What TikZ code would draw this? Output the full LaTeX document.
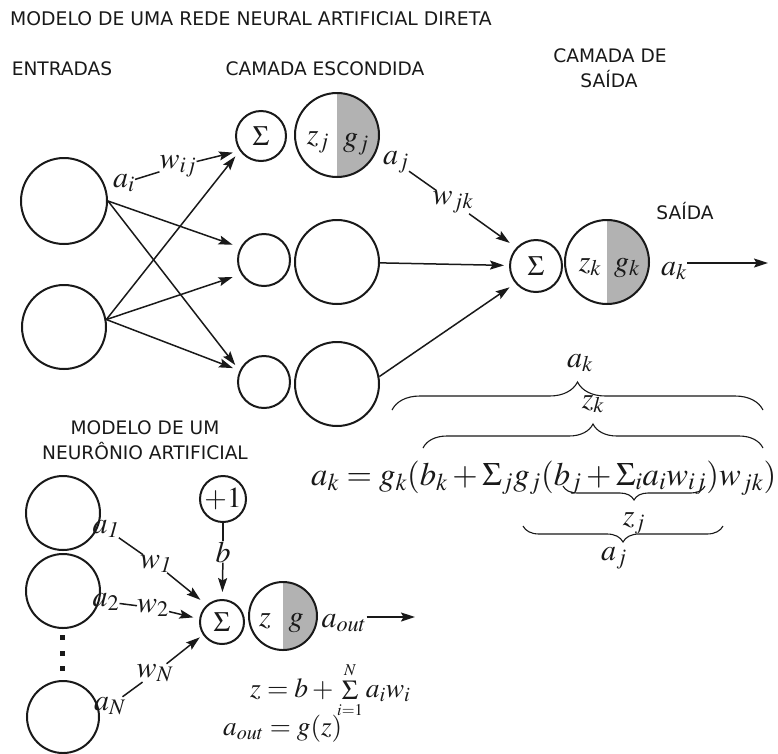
\documentclass[tikz,border=0pt]{standalone}
\usepackage{mathptmx}
\usepackage{graphicx}
\usepackage[no-math]{fontspec}
\setsansfont{DejaVu Sans}
\usetikzlibrary{arrows.meta,decorations.pathreplacing}
\definecolor{halfg}{RGB}{178,178,178}
\definecolor{ink}{RGB}{25,25,25}
\tikzset{
  neuron/.style={circle,draw=ink,line width=2pt,inner sep=0pt,fill=white},
  halfgray/.style={path picture={\fill[halfg] (path picture bounding box.north) rectangle (path picture bounding box.south east);}},
  inl/.style={font=\fontsize{30}{32}\selectfont,inner sep=0pt,text=ink,anchor=base},
  sig/.style={font=\fontsize{28}{30}\selectfont,text=ink},
  hdr/.style={font=\sffamily\fontsize{18.6}{20}\selectfont,text=ink,inner sep=0pt,anchor=base},
  arr/.style={-{Stealth[length=14pt,width=9pt,inset=2.5pt]},line width=1.5pt,draw=ink},
  con/.style={line width=1.5pt,draw=ink},
  brc/.style={decorate,decoration={brace,amplitude=#1},line width=1.1pt,draw=ink},
  brc/.default=20pt,
  dotsq/.style={fill=ink,inner sep=0pt,minimum size=5pt,rectangle}
}
\begin{document}
\begin{tikzpicture}[x=1pt,y=-1pt]
\useasboundingbox (0,0) rectangle (778,753);

% ---------- headings ----------
\node[hdr,anchor=base west,font=\sffamily\fontsize{18.8}{20}\selectfont] (title) at (10,25) {MODELO DE UMA REDE NEURAL ARTIFICIAL DIRETA};
\node[hdr] (tin) at (62,75) {ENTRADAS};
\node[hdr] (thid) at (325,75) {CAMADA ESCONDIDA};
\node[hdr] (tout1) at (610,62) {CAMADA DE};
\node[hdr] (tout2) at (609,87) {SAÍDA};
\node[hdr] (tsaida) at (685,219) {SAÍDA};
\node[hdr] (tmod1) at (145,434) {MODELO DE UM};
\node[hdr] (tmod2) at (145,459) {NEURÔNIO ARTIFICIAL};

% ---------- network neurons ----------
\node[neuron,minimum size=86pt] (in1) at (64,201) {};
\node[neuron,minimum size=84pt] (in2) at (64,327) {};
\node[neuron,minimum size=50pt,sig] (s1) at (261,136) {$\Sigma$};
\node[neuron,halfgray,minimum size=84pt] (h1) at (337,135) {};
\node[neuron,minimum size=52pt] (s2) at (264,260) {};
\node[neuron,minimum size=84pt] (h2) at (337,262) {};
\node[neuron,minimum size=52pt] (s3) at (264,382) {};
\node[neuron,minimum size=84pt] (h3) at (337,384) {};
\node[neuron,minimum size=52pt,sig] (so) at (536,266) {$\Sigma$};
\node[neuron,halfgray,minimum size=84pt] (o) at (607,262) {};

\node[inl] (zj) at (318,144) {$z_j$};
\node[inl] (gj) at (356,146) {$g_j$};
\node[inl] (zk) at (590,271) {$z_k$};
\node[inl] (gk) at (627,271) {$g_k$};

% labels on network connectors
\node[inl] (ai) at (124,187) {$a_i$};
\node[inl] (wij) at (178,168) {$w_{ij}$};
\node[inl] (aj) at (396,164) {$a_j$};
\node[inl] (wjk) at (453,204) {$w_{jk}$};
\node[inl] (ak) at (674,275) {$a_k$};
\coordinate (outend) at (768,263);

% connectors
\draw[con] (ai) -- (wij);
\draw[arr,shorten >=7pt] (wij) -- (s1.215);
\draw[arr,shorten >=7pt] (in2.10) -- (s1.215);
\draw[arr,shorten >=8pt] (in1.east) -- (s2.152);
\draw[arr,shorten >=9pt] (in2.10) -- (s2.212);
\draw[arr,shorten >=7pt] (in1.east) -- (s3.155);
\draw[arr,shorten >=7pt] (in2.10) -- (s3.155);
\draw[con] (aj) -- (wjk);
\draw[arr,shorten >=8pt] (wjk) -- (so.137);
\draw[arr,shorten >=5pt] (h2) -- (so);
\draw[arr,shorten >=7pt] (h3.10) -- (so.220);
\draw[arr] (ak.east |- outend) -- (outend);

% ---------- equation with braces ----------
\node[inl,anchor=base west] (eq) at (311,485) {\resizebox{465pt}{!}{$a_k = g_k(b_k + \Sigma_j g_j(b_j + \Sigma_i a_i w_{ij})w_{jk})$}};
\coordinate (b1l) at (392,410); \coordinate (b1r) at (763,410);
\coordinate (b2l) at (423,448); \coordinate (b2r) at (763,448);
\coordinate (b3l) at (563,486); \coordinate (b3r) at (705,486);
\coordinate (b4l) at (523,526); \coordinate (b4r) at (723,526);
\draw[brc=28pt] (b1l) -- (b1r);
\draw[brc=24pt] (b2l) -- (b2r);
\draw[brc=14pt] (b3r) -- (b3l);
\draw[brc=16pt] (b4r) -- (b4l);
\node[inl] (lak) at (580,367) {$a_k$};
\node[inl] (lzk) at (593,408) {$z_k$};
\node[inl] (lzj) at (634,525) {$z_j$};
\node[inl] (laj) at (614,560) {$a_j$};

% ---------- single neuron model ----------
\node[neuron,minimum size=74pt] (x1) at (63,513) {};
\node[neuron,minimum size=74pt] (x2) at (63,591) {};
\node[neuron,minimum size=72pt] (xN) at (63,717) {};
\node[dotsq] (d1) at (62,637) {};
\node[dotsq] (d2) at (62,653) {};
\node[dotsq] (d3) at (62,668) {};
\node[neuron,minimum size=46pt,font=\fontsize{29}{30}\selectfont,text=ink] (plus) at (223,499) {$+1$};
\node[neuron,minimum size=44pt,sig] (ss) at (222,622) {$\Sigma$};
\node[neuron,halfgray,minimum size=68pt] (sg) at (283,616) {};
\node[inl] (zz) at (265,626) {$z$};
\node[inl] (gg) at (296,626) {$g$};

\node[inl] (a1) at (106,533) {$a_{\mathit{1}}$};
\node[inl] (w1) at (156,568) {$w_{\mathit{1}}$};
\node[inl] (a2) at (106,606) {$a_2$};
\node[inl] (w2) at (153,612) {$w_2$};
\node[inl] (aN) at (110,710) {$a_N$};
\node[inl] (wN) at (155,677) {$w_N$};
\node[inl] (bb) at (223,562) {$b$};
\node[inl] (aout) at (344,627) {$a_{out}$};
\coordinate (aoutend) at (415,617);

\draw[con] (a1) -- (w1);
\draw[arr,shorten >=8pt] (w1) -- (ss.132);
\draw[con] (a2) -- (w2);
\draw[arr,shorten >=6pt] (w2) -- (ss.172);
\draw[con] (aN) -- (wN);
\draw[arr,shorten >=4pt] (wN) -- (ss.214);
\draw[con] (plus) -- (bb);
\draw[arr,shorten >=7pt] (bb) -- (ss);
\draw[arr] (aout.east |- aoutend) -- (aoutend);

\node[inl,anchor=base west] (fz) at (250,697) {\resizebox{160pt}{!}{$z = b + \mathop{\Sigma}\limits^{\scriptscriptstyle N}_{\scriptscriptstyle i=1} a_i w_i$}};
\node[inl,anchor=base west] (fa) at (223,735) {\resizebox{119pt}{!}{$a_{out} = g(z)$}};
\end{tikzpicture}
\end{document}
